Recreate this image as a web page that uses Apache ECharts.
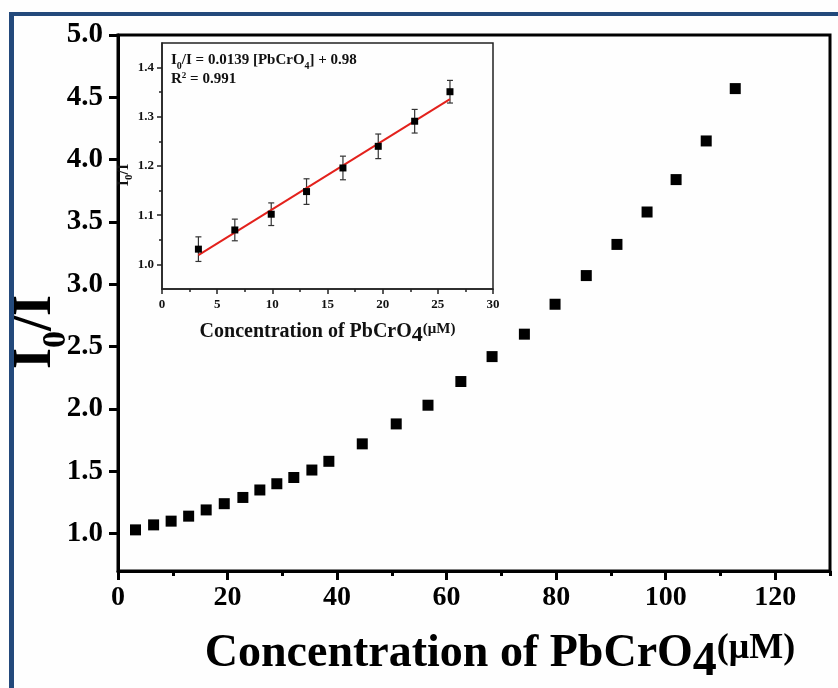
<!DOCTYPE html>
<html><head><meta charset="utf-8">
<script src="https://cdn.jsdelivr.net/npm/echarts@6/dist/echarts.min.js"></script>
<style>html,body{margin:0;padding:0;background:#fff}#c{width:838px;height:688px}</style>
</head><body><div id="c"></div>
<script>
// Main plot data
var xMain = [3.2, 6.5, 9.7, 12.9, 16.1, 19.4, 22.8, 25.9, 29.0, 32.1, 35.4, 38.5, 44.6, 50.8, 56.6, 62.6, 68.3, 74.2, 79.8, 85.5, 91.1, 96.6, 101.9, 107.4, 112.7];
var yMain = [1.03, 1.07, 1.10, 1.14, 1.19, 1.24, 1.29, 1.35, 1.40, 1.45, 1.51, 1.58, 1.72, 1.88, 2.03, 2.22, 2.42, 2.60, 2.84, 3.07, 3.32, 3.58, 3.84, 4.15, 4.57];
var yMainTicks = [1.0, 1.5, 2.0, 2.5, 3.0, 3.5, 4.0, 4.5, 5.0];
var xMainLabels = [0, 20, 40, 60, 80, 100, 120];
var xMainMinor = [10, 30, 50, 70, 90, 110, 130];
// Inset data
var xIns = [3.3, 6.6, 9.9, 13.1, 16.4, 19.6, 22.9, 26.1];
var yIns = [1.031, 1.070, 1.102, 1.148, 1.196, 1.240, 1.291, 1.351];
var errIns = [0.025, 0.022, 0.023, 0.026, 0.024, 0.025, 0.024, 0.023];
var xFit = [3.3, 26.1];
var yFit = [1.019, 1.336];
var yInsTicks = [1.0, 1.1, 1.2, 1.3, 1.4];
var yInsMinor = [1.05, 1.15, 1.25, 1.35];

var FONT = 'Liberation Serif';
var chart = echarts.init(document.getElementById('c'), null, {renderer: 'canvas'});

var mainPts = xMain.map(function (x, i) { return [x, yMain[i]]; });
var insPts = xIns.map(function (x, i) { return [x, yIns[i]]; });
var errPts = xIns.map(function (x, i) { return [x, yIns[i] - errIns[i], yIns[i] + errIns[i]]; });
var fitPts = xFit.map(function (x, i) { return [x, yFit[i]]; });

function fmt1(v) { return Number(v).toFixed(1); }

var option = {
  backgroundColor: '#fefefe',
  animation: false,
  graphic: [
    {type: 'rect', shape: {x: 9, y: 12, width: 829, height: 4}, style: {fill: '#23497b'}, z: 100},
    {type: 'rect', shape: {x: 9, y: 12, width: 5, height: 676}, style: {fill: '#23497b'}, z: 100}
  ],
  title: {
    left: 166, top: 47,
    text: '{i|I}{s|0}{i|/I = 0.0139 [PbCrO}{s|4}{i|] + 0.98}\n{i|R}{p|2}{i| = 0.991}',
    textStyle: {
      fontFamily: FONT, fontWeight: 'bold', color: '#111',
      rich: {
        i: {fontFamily: FONT, fontWeight: 'bold', fontSize: 15, lineHeight: 19, padding: [0, 0, 3, 0], verticalAlign: 'bottom', color: '#111'},
        s: {fontFamily: FONT, fontWeight: 'bold', fontSize: 10, lineHeight: 12, verticalAlign: 'bottom', color: '#111'},
        p: {fontFamily: FONT, fontWeight: 'bold', fontSize: 9, lineHeight: 12, verticalAlign: 'top', color: '#111'}
      }
    }
  },
  grid: [
    {left: 118, right: 8, top: 35, bottom: 117, containLabel: false, outerBoundsMode: 'none', show: true, borderColor: '#000', borderWidth: 3, backgroundColor: 'transparent'},
    {left: 162, top: 43, width: 331, height: 246, containLabel: false, outerBoundsMode: 'none', show: true, borderColor: '#222', borderWidth: 1.5, backgroundColor: '#fefefe'}
  ],
  xAxis: [
    {
      type: 'value', gridIndex: 0, min: 0, max: 130,
      name: '{a|Concentration of PbCrO}{b|4}{c|(μM)}',
      nameLocation: 'middle', nameGap: 60, nameMoveOverlap: false,
      nameTextStyle: {
        padding: [0, 0, 0, 52],
        rich: {
          a: {fontFamily: FONT, fontWeight: 'bold', fontSize: 46, color: '#000', padding: [0, 0, 10, 0], verticalAlign: 'bottom'},
          b: {fontFamily: FONT, fontWeight: 'bold', fontSize: 48, color: '#000', verticalAlign: 'bottom'},
          c: {fontFamily: FONT, fontWeight: 'bold', fontSize: 36, color: '#000', verticalAlign: 'top'}
        }
      },
      axisLine: {show: true, onZero: false, lineStyle: {color: '#000', width: 3}},
      axisTick: {show: true, customValues: xMainLabels, length: 9, lineStyle: {color: '#000', width: 3}},
      axisLabel: {customValues: xMainLabels, margin: 13, fontFamily: FONT, fontWeight: 'bold', fontSize: 28, color: '#000'},
      splitLine: {show: false}
    },
    {
      type: 'value', gridIndex: 0, min: 0, max: 130, position: 'bottom',
      axisLine: {show: false},
      axisTick: {show: true, customValues: xMainMinor, length: 5, lineStyle: {color: '#000', width: 3}},
      axisLabel: {show: false},
      splitLine: {show: false}
    },
    {
      type: 'value', gridIndex: 1, min: 0, max: 30, interval: 5,
      name: '{a|Concentration of PbCrO}{b|4}{c|(μM)}',
      nameLocation: 'middle', nameGap: 33, nameMoveOverlap: false,
      nameTextStyle: {
        rich: {
          a: {fontFamily: FONT, fontWeight: 'bold', fontSize: 20, color: '#111', padding: [0, 0, 4, 0], verticalAlign: 'bottom'},
          b: {fontFamily: FONT, fontWeight: 'bold', fontSize: 22, color: '#111', verticalAlign: 'bottom'},
          c: {fontFamily: FONT, fontWeight: 'bold', fontSize: 15, color: '#111', verticalAlign: 'top'}
        }
      },
      axisLine: {show: true, onZero: false, lineStyle: {color: '#222', width: 1.5}},
      axisTick: {show: true, length: 5, lineStyle: {color: '#222', width: 1.5}},
      minorTick: {show: true, splitNumber: 2, length: 3, lineStyle: {color: '#222', width: 1.5}},
      axisLabel: {margin: 9, fontFamily: FONT, fontWeight: 'bold', fontSize: 13, color: '#111'},
      splitLine: {show: false}, minorSplitLine: {show: false}
    }
  ],
  yAxis: [
    {
      type: 'value', gridIndex: 0, min: 0.7, max: 5.0,
      name: '{i|I}{s|0}{i|/I}',
      nameLocation: 'middle', nameGap: 45, nameMoveOverlap: false,
      nameTextStyle: {
        padding: [0, 58, 0, 0],
        rich: {
          i: {fontFamily: FONT, fontWeight: 'bold', fontSize: 54, color: '#000', padding: [0, 0, 10, 0], verticalAlign: 'bottom'},
          s: {fontFamily: FONT, fontWeight: 'bold', fontSize: 34, color: '#000', verticalAlign: 'bottom'}
        }
      },
      axisLine: {show: true, onZero: false, lineStyle: {color: '#000', width: 3}},
      axisTick: {show: true, customValues: yMainTicks, length: 9, lineStyle: {color: '#000', width: 3}},
      axisLabel: {customValues: yMainTicks, formatter: fmt1, margin: 15, fontFamily: FONT, fontWeight: 'bold', fontSize: 29, color: '#000'},
      splitLine: {show: false}
    },
    {
      type: 'value', gridIndex: 1, min: 0.95, max: 1.45,
      name: '{i|I}{s|0}{i|/I}',
      nameLocation: 'middle', nameGap: 27, nameMoveOverlap: false,
      nameTextStyle: {
        padding: [0, 18, 0, 0],
        rich: {
          i: {fontFamily: FONT, fontWeight: 'bold', fontSize: 16, color: '#111', padding: [0, 0, 3, 0], verticalAlign: 'bottom'},
          s: {fontFamily: FONT, fontWeight: 'bold', fontSize: 11, color: '#111', verticalAlign: 'bottom'}
        }
      },
      axisLine: {show: true, onZero: false, lineStyle: {color: '#222', width: 1.5}},
      axisTick: {show: true, customValues: yInsTicks, length: 5, lineStyle: {color: '#222', width: 1.5}},
      axisLabel: {customValues: yInsTicks, formatter: fmt1, margin: 8, fontFamily: FONT, fontWeight: 'bold', fontSize: 13, color: '#111'},
      splitLine: {show: false}
    },
    {
      type: 'value', gridIndex: 1, min: 0.95, max: 1.45, position: 'left',
      axisLine: {show: false},
      axisTick: {show: true, customValues: yInsMinor, length: 3, lineStyle: {color: '#222', width: 1.5}},
      axisLabel: {show: false},
      splitLine: {show: false}
    }
  ],
  series: [
    {
      type: 'scatter', xAxisIndex: 0, yAxisIndex: 0, data: mainPts,
      symbol: 'rect', symbolSize: 11, itemStyle: {color: '#000', opacity: 1}, z: 3
    },
    {
      type: 'custom', xAxisIndex: 2, yAxisIndex: 1, data: errPts, z: 4,
      renderItem: function (params, api) {
        var x = api.value(0);
        var lo = api.coord([x, api.value(1)]);
        var hi = api.coord([x, api.value(2)]);
        var w = 3;
        var st = {stroke: '#333', lineWidth: 1.2};
        return {type: 'group', children: [
          {type: 'line', shape: {x1: lo[0], y1: lo[1], x2: hi[0], y2: hi[1]}, style: st},
          {type: 'line', shape: {x1: lo[0] - w, y1: lo[1], x2: lo[0] + w, y2: lo[1]}, style: st},
          {type: 'line', shape: {x1: hi[0] - w, y1: hi[1], x2: hi[0] + w, y2: hi[1]}, style: st}
        ]};
      }
    },
    {
      type: 'line', xAxisIndex: 2, yAxisIndex: 1, data: fitPts, showSymbol: false, symbol: 'none',
      lineStyle: {color: '#e3211c', width: 2}, z: 5
    },
    {
      type: 'scatter', xAxisIndex: 2, yAxisIndex: 1, data: insPts,
      symbol: 'rect', symbolSize: 7, itemStyle: {color: '#000', opacity: 1}, z: 6
    }
  ]
};
chart.setOption(option);
</script>
</body></html>
